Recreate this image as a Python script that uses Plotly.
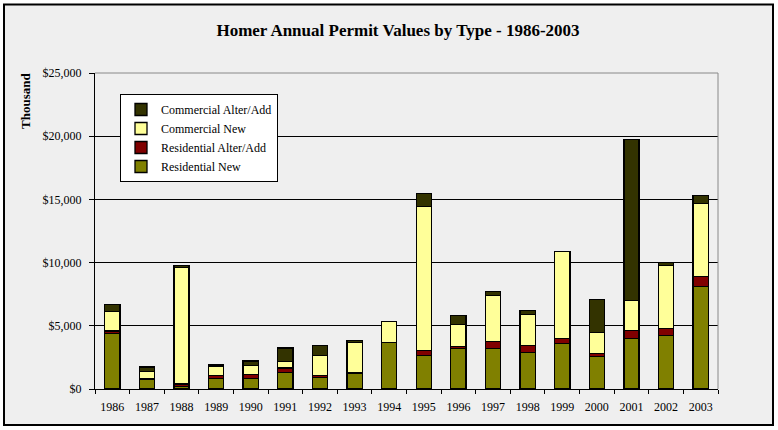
import plotly.graph_objects as go

years = [str(y) for y in range(1986, 2004)]
residential_new = [4410, 760, 210, 840, 840, 1320, 920, 1210, 3670, 2660, 3220, 3220, 2900, 3610, 2580, 4010, 4250, 8120]
residential_alter = [180, 50, 190, 240, 320, 340, 160, 50, 30, 400, 160, 550, 550, 400, 240, 630, 550, 800]
commercial_new = [1560, 600, 9230, 740, 710, 530, 1580, 2400, 1650, 11390, 1740, 3640, 2450, 6880, 1660, 2370, 4980, 5770]
commercial_alter = [550, 340, 150, 130, 340, 1050, 790, 160, 0, 1030, 710, 320, 320, 0, 2610, 12740, 240, 630]

tick_vals = [0, 5000, 10000, 15000, 20000, 25000]
tick_text = ["$0", "$5,000", "$10,000", "$15,000", "$20,000", "$25,000"]

series = [
    ("Residential New", residential_new, "#808000"),
    ("Residential Alter/Add", residential_alter, "#800000"),
    ("Commercial New", commercial_new, "#FFFF99"),
    ("Commercial Alter/Add", commercial_alter, "#333300"),
]

fig = go.Figure()
for name, vals, col in series:
    fig.add_trace(go.Bar(
        x=years, y=vals, name=name,
        marker=dict(color=col, line=dict(color="black", width=1.3)),
    ))

W, H = 778, 430
L, R, T, B = 95, 60, 73, 41
pw, ph = W - L - R, H - T - B

def px(x):
    return (x - L) / pw

def py(y):
    return 1 - (y - T) / ph

font = "Liberation Serif, Times New Roman, serif"
fig.update_layout(
    width=W, height=H,
    barmode="stack", bargap=0.56,
    paper_bgcolor="white", plot_bgcolor="#CCCCFF",
    margin=dict(l=L, r=R, t=T, b=B, pad=0),
    font=dict(family=font, size=12, color="black"),
    title=dict(text="<b>Homer Annual Permit Values by Type - 1986-2003</b>",
               x=398 / W, xanchor="center", y=1 - 30 / H, yanchor="middle",
               font=dict(family=font, size=17, color="black")),
    legend=dict(traceorder="reversed", x=px(120), y=py(94),
                xanchor="left", yanchor="top", bgcolor="white",
                bordercolor="black", borderwidth=1,
                font=dict(family=font, size=12, color="black"),
                itemwidth=30, tracegroupgap=0),
    showlegend=True,
    xaxis=dict(type="category", tickson="boundaries", ticks="outside", ticklen=4,
               tickcolor="black", showline=True, linecolor="black", linewidth=1,
               showgrid=False, tickfont=dict(family=font, size=12),
               ticklabelstandoff=7),
    yaxis=dict(range=[0, 25000], tickvals=tick_vals, ticktext=tick_text,
               ticks="outside", ticklen=5, tickcolor="black", showline=True,
               linecolor="black", linewidth=1, showgrid=True, gridcolor="black",
               gridwidth=1, tickfont=dict(family=font, size=12), zeroline=False,
               ticklabelstandoff=5),
    shapes=[
        dict(type="rect", xref="paper", yref="paper",
             x0=px(4), x1=px(773), y0=py(425), y1=py(4.5),
             fillcolor="#EFEFEF", line=dict(width=0), layer="below"),
        dict(type="line", xref="paper", yref="paper", x0=1, x1=1, y0=0, y1=1,
             line=dict(color="#888888", width=1)),
        dict(type="line", xref="paper", yref="paper", x0=0, x1=1, y0=1, y1=1,
             line=dict(color="#888888", width=1)),
        dict(type="rect", xref="paper", yref="paper",
             x0=px(4), x1=px(773), y0=py(425), y1=py(4.5),
             line=dict(color="black", width=2), layer="above"),
    ],
    annotations=[
        dict(text="<b>Thousand</b>", textangle=-90, xref="paper", yref="paper",
             x=px(25), y=py(101), xanchor="center", yanchor="middle",
             showarrow=False, font=dict(family=font, size=13, color="black")),
    ],
)

fig.write_html("out.html")
